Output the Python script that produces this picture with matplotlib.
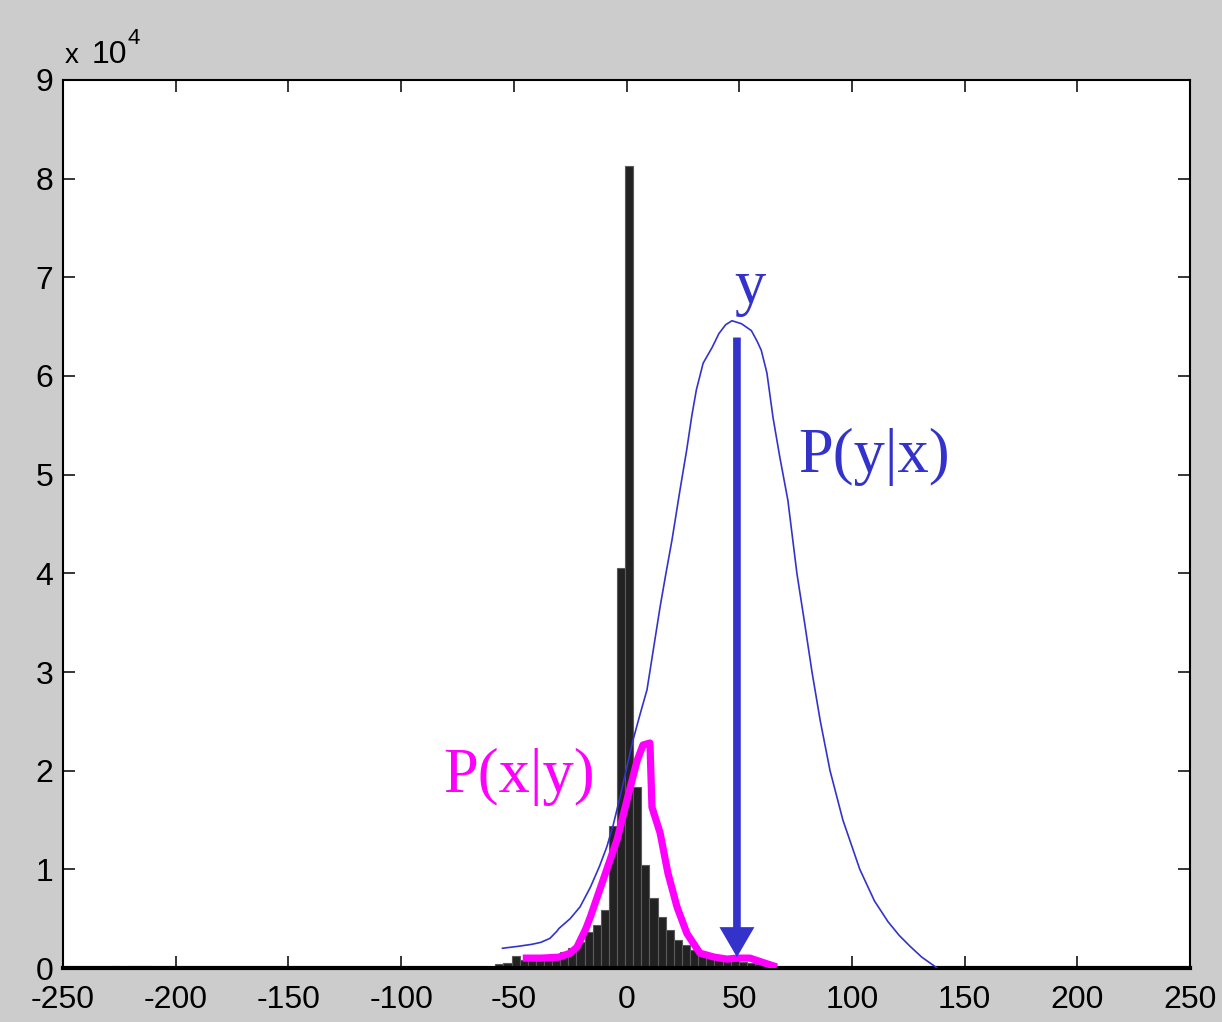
import matplotlib
matplotlib.use("Agg")
import matplotlib.pyplot as plt
import numpy as np

# ---- data ----
bin_width = 3.6
hist_centers = [-60.0, -56.4, -52.8, -49.2, -45.6, -42.0, -38.4, -34.8, -31.2, -27.6,
                -24.0, -20.4, -16.8, -13.2, -9.6, -6.0, -2.4, 1.2, 4.8, 8.4,
                12.0, 15.6, 19.2, 22.8, 26.4, 30.0, 33.6, 37.2, 40.8, 44.4,
                48.0, 51.6, 55.2, 58.8, 62.4, 66.0, 69.6,
                -226.8, -219.6, -216.0, -212.4, 210.0, 213.6, 224.4]
hist_counts = [50, 400, 500, 1200, 800, 800, 900, 1000, 1300, 1600,
               2000, 2600, 3600, 4400, 5900, 14400, 40500, 81300, 18300, 10400,
               7100, 5200, 3900, 2800, 2300, 1800, 1500, 1200, 1000, 800,
               700, 600, 500, 400, 300, 200, 100,
               200, 200, 200, 200, 150, 150, 150]

pyx_x = [-55, -48, -42, -38, -34, -31, -30, -25, -20.6, -16, -12, -8.7, -6, -2.9, 0,
         2.9, 6, 9.1, 12, 14.9, 17.5, 20.2, 23.7, 26.7, 29, 31, 34, 38, 41, 44, 46.8,
         51, 55.4, 58, 59.8, 62.3, 65, 68, 71.6, 75.6, 79, 82.3, 86, 90.3, 96, 103.5,
         110, 116, 121, 125.8, 131, 137.8]
pyx_y = [2000, 2200, 2400, 2600, 3000, 3700, 4000, 5000, 6200, 8200, 10300, 12300,
         14400, 17300, 20200, 23100, 25700, 28200, 32400, 36600, 40000, 43400, 48400,
         52500, 56000, 58600, 61300, 62900, 64300, 65200, 65600, 65300, 64600, 63500,
         62600, 60300, 55800, 51800, 47400, 40000, 35000, 30000, 25000, 20000, 15000,
         10000, 6800, 4700, 3300, 2200, 1100, 0]

pxy_x = [-46, -38, -30, -25, -22, -18, -16, -10.4, -4.2, 0.2, 4.7, 7.3, 10.4, 11.3,
         14.9, 18.4, 22.4, 26.8, 32.6, 39, 44.6, 49, 54.8, 60, 66.7]
pxy_y = [1000, 1000, 1100, 1500, 2100, 4000, 5200, 8900, 13000, 17000, 21000, 22600,
         22800, 16300, 13700, 9600, 6200, 3500, 1500, 1100, 900, 1000, 1000, 600, 100]

arrow_x = 49
arrow_top = 63900
arrow_tip = 1100

xticks = [-250, -200, -150, -100, -50, 0, 50, 100, 150, 200, 250]
yticks = [0, 10000, 20000, 30000, 40000, 50000, 60000, 70000, 80000, 90000]

blue = "#3333CC"
magenta = "#FF00FF"

fig = plt.figure(figsize=(12.22, 10.22), dpi=100, facecolor="#cccccc")
ax = fig.add_axes([63 / 1222, 1 - 968 / 1022, (1190 - 63) / 1222, (968 - 80) / 1022])
ax.set_facecolor("white")

ax.bar(hist_centers, hist_counts, width=bin_width, color="#222222",
       edgecolor="#5a5a5a", linewidth=0.8, zorder=2)
ax.plot(pyx_x, pyx_y, color=blue, linewidth=1.2, zorder=3)
ax.plot(pxy_x, pxy_y, color=magenta, linewidth=5.2, solid_capstyle="butt",
        solid_joinstyle="round", zorder=4)
ax.arrow(arrow_x, arrow_top, 0, arrow_tip - arrow_top, width=3.4, head_width=15.5,
         head_length=3040, length_includes_head=True, color=blue, linewidth=0, zorder=5)

serif = ["Liberation Serif", "DejaVu Serif"]
ax.text(54.8, 67400, "y", color=blue, fontsize=45, family=serif, ha="center", va="baseline")
ax.text(76, 50300, "P(y|x)", color=blue, fontsize=45, family=serif, ha="left", va="baseline")
ax.text(-81.4, 17800, "P(x|y)", color=magenta, fontsize=45, family=serif, ha="left", va="baseline")

ax.set_xlim(-250, 250)
ax.set_ylim(0, 90000)
ax.set_xticks(xticks)
ax.set_yticks(yticks)
tickfont = ["Liberation Sans", "DejaVu Sans"]
ax.set_xticklabels([str(t) for t in xticks], family=tickfont, fontsize=23)
ax.set_yticklabels([str(t // 10000) for t in yticks], family=tickfont, fontsize=23)
ax.tick_params(direction="in", length=8.6, width=1.1, top=True, right=True, colors="black")
ax.tick_params(axis="x", pad=12)
ax.tick_params(axis="y", pad=7)
for s in ax.spines.values():
    s.set_linewidth(1.5)
ax.spines["bottom"].set_linewidth(3)

fig.text(65 / 1222, 1 - 63 / 1022, "x", fontsize=20, family=tickfont, ha="left", va="baseline")
fig.text(92 / 1222, 1 - 63 / 1022, "10", fontsize=23, family=tickfont, ha="left", va="baseline")
fig.text(128 / 1222, 1 - 44 / 1022, "4", fontsize=16, family=tickfont, ha="left", va="baseline")

fig.savefig("out.png", dpi=100, facecolor=fig.get_facecolor())
